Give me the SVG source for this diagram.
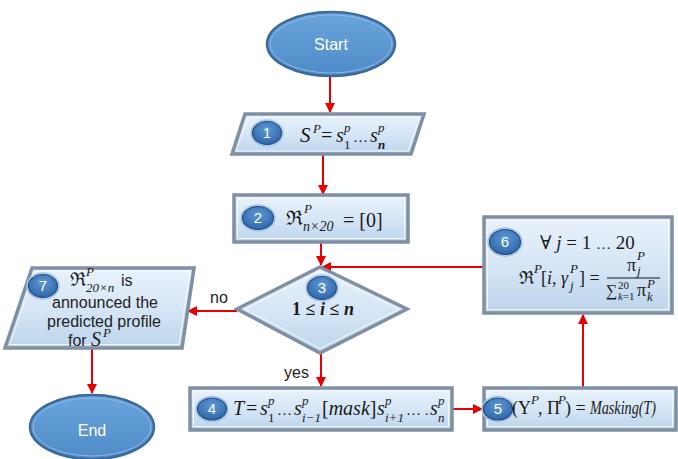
<svg xmlns="http://www.w3.org/2000/svg" width="678" height="459" viewBox="0 0 678 459">
<defs>
<linearGradient id="g" x1="0" y1="0" x2="0" y2="1">
<stop offset="0" stop-color="#E9F2FB"/>
<stop offset="0.5" stop-color="#D6E6F6"/>
<stop offset="1" stop-color="#BCD4EC"/>
</linearGradient>
<linearGradient id="tg" x1="0" y1="0" x2="0" y2="1">
<stop offset="0" stop-color="#6AA5DC"/>
<stop offset="1" stop-color="#4F8BC8"/>
</linearGradient>
<radialGradient id="bg" cx="0.5" cy="0.35" r="0.65">
<stop offset="0" stop-color="#5E98D6"/>
<stop offset="1" stop-color="#2F66A8"/>
</radialGradient>
<marker id="ah" viewBox="0 0 10 10" refX="9" refY="5" markerWidth="5" markerHeight="5" orient="auto">
<path d="M0,0 L10,5 L0,10 z" fill="#E60000"/>
</marker>
</defs>
<style>
.shape{fill:url(#g);stroke:#7F8FA4;stroke-width:3.5}
.inner{fill:none;stroke:#F4F8FC;stroke-width:1}
.term{fill:url(#tg);stroke:#3C6A9A;stroke-width:2.5}
.termin{fill:none;stroke:#8DB8E4;stroke-width:1}
.badge{fill:url(#bg);stroke:#1F4E85;stroke-width:1.2}
.ring{fill:none;stroke:#A9C4E4;stroke-width:1.5}
.num{font-family:"Liberation Sans",Arial,sans-serif;font-size:15px;fill:#fff;text-anchor:middle}
.tt{font-family:"Liberation Sans",Arial,sans-serif;font-size:16px;fill:#fff;text-anchor:middle}
.m{font-family:"Liberation Serif","DejaVu Serif",serif;font-style:italic;fill:#1a1a1a;font-size:20px}
.r{font-family:"Liberation Serif","DejaVu Serif",serif;font-style:normal;fill:#1a1a1a;font-size:20px}
.s{font-size:13px}
.e{font-size:15px}
.lab{font-family:"Liberation Sans",Arial,sans-serif;font-size:16px;fill:#222}
.lab7{font-family:"Liberation Sans",Arial,sans-serif;font-size:16px;fill:#222}
.conn{stroke:#E60000;stroke-width:2;fill:none;marker-end:url(#ah)}
</style>

<g id="connectors">
<line class="conn" x1="330" y1="77" x2="330" y2="112"/>
<line class="conn" x1="323" y1="155" x2="323" y2="194"/>
<line class="conn" x1="321" y1="243" x2="321" y2="265"/>
<line class="conn" x1="321" y1="354" x2="321" y2="386"/>
<line class="conn" x1="237" y1="311" x2="188" y2="311"/>
<line class="conn" x1="92" y1="349" x2="92" y2="393"/>
<line class="conn" x1="452" y1="409" x2="482" y2="409"/>
<line class="conn" x1="583" y1="387" x2="583" y2="315"/>
<line class="conn" x1="483" y1="267" x2="322" y2="267"/>
<text class="lab" x="210" y="303">no</text>
<text class="lab" x="284" y="378">yes</text>
</g>

<g id="start">
<ellipse class="term" cx="331" cy="44" rx="64" ry="32"/>
<ellipse class="termin" cx="331" cy="44" rx="61" ry="29"/>
<text class="tt" x="331" y="50">Start</text>
</g>

<g id="n1">
<polygon class="shape" points="245,114 424,114 411,154 232,154"/>
<polygon class="inner" points="248,117 420,117 408,151 236,151"/>
<ellipse class="ring" cx="267" cy="133" rx="16" ry="13"/>
<ellipse class="badge" cx="267" cy="133" rx="14.5" ry="11.5"/>
<text class="num" x="267" y="138">1</text>
<text class="m" x="300" y="142" style="font-size:21px">S</text>
<text class="m s" x="313" y="133">P</text>
<text class="r" x="321" y="142">=</text>
<text class="m" x="336" y="142">s</text>
<text class="m s" x="344" y="132">p</text>
<text class="r s" x="344" y="149">1</text>
<text class="r e" x="353" y="142">…</text>
<text class="m" x="370" y="142">s</text>
<text class="m s" x="378" y="132">p</text>
<text class="m s" x="378" y="149" font-weight="bold">n</text>
</g>

<g id="n2">
<rect class="shape" x="234" y="195" width="174" height="47"/>
<rect class="inner" x="237.5" y="198.5" width="167" height="40"/>
<ellipse class="ring" cx="258" cy="218" rx="17" ry="13"/>
<ellipse class="badge" cx="258" cy="218" rx="15.5" ry="11.5"/>
<text class="num" x="258" y="223">2</text>
<text class="r" x="286" y="225">ℜ</text>
<text class="m s" x="304" y="213">P</text>
<text class="m" x="303" y="231" style="font-size:14px">n×20</text>
<text class="r" x="343" y="227">= [0]</text>
</g>

<g id="n3">
<polygon class="shape" points="320,267 407,309 320,353 237,309"/>
<polygon class="inner" points="320,271.5 399,309 320,348.5 245,309"/>
<ellipse class="ring" cx="322" cy="288" rx="16" ry="13"/>
<ellipse class="badge" cx="322" cy="288" rx="14.5" ry="11.5"/>
<text class="num" x="322" y="293">3</text>
<text class="r" x="323" y="315" style="font-size:18px;font-weight:bold" text-anchor="middle">1 ≤ <tspan font-style="italic">i</tspan> ≤ <tspan font-style="italic">n</tspan></text>
</g>

<g id="n4">
<rect class="shape" x="190" y="388" width="262" height="42"/>
<rect class="inner" x="193.5" y="391.5" width="255" height="35"/>
<ellipse class="ring" cx="212" cy="409" rx="16" ry="12.5"/>
<ellipse class="badge" cx="212" cy="409" rx="14.5" ry="11"/>
<text class="num" x="212" y="414">4</text>
<text class="m" x="233" y="415">T</text>
<text class="r" x="246" y="415">=</text>
<text class="m" x="260" y="415">s</text>
<text class="m s" x="268" y="405">p</text>
<text class="r s" x="268" y="422">1</text>
<text class="r e" x="277" y="415">…</text>
<text class="m" x="294" y="415">s</text>
<text class="m s" x="302" y="405">p</text>
<text class="m s" x="302" y="422">i−1</text>
<text class="r" x="322" y="415">[<tspan font-style="italic">mask</tspan>]</text>
<text class="m" x="377" y="415">s</text>
<text class="m s" x="385" y="405">p</text>
<text class="m s" x="385" y="422">i+1</text>
<text class="r e" x="406" y="415">… .</text>
<text class="m" x="430" y="415">s</text>
<text class="m s" x="438" y="405">p</text>
<text class="m s" x="438" y="422">n</text>
</g>

<g id="n5">
<rect class="shape" x="484" y="388" width="192" height="42"/>
<rect class="inner" x="487.5" y="391.5" width="185" height="35"/>
<ellipse class="ring" cx="498" cy="409" rx="16" ry="12.5"/>
<ellipse class="badge" cx="498" cy="409" rx="14.5" ry="11"/>
<text class="num" x="498" y="414">5</text>
<text class="r" x="512" y="414" style="font-size:18px">(Υ</text>
<text class="m s" x="531" y="404">P</text>
<text class="r" x="538" y="414" style="font-size:18px">, Π</text>
<text class="m s" x="558" y="404">P</text>
<text class="r" x="565" y="414" style="font-size:18px">) =</text>
<text class="m" x="590" y="414" style="font-size:18px" textLength="66" lengthAdjust="spacingAndGlyphs">Masking(T)</text>
</g>

<g id="n6">
<rect class="shape" x="484" y="217" width="188" height="96"/>
<rect class="inner" x="487.5" y="220.5" width="181" height="89"/>
<ellipse class="ring" cx="505" cy="242" rx="17" ry="14"/>
<ellipse class="badge" cx="505" cy="242" rx="15.5" ry="12.5"/>
<text class="num" x="505" y="247">6</text>
<text class="r" x="540" y="249" style="font-size:19px">∀ <tspan font-style="italic">j</tspan> = 1 <tspan style="font-size:15px">…</tspan> 20</text>
<text class="r" x="519" y="284" style="font-size:18px">ℜ</text>
<text class="m s" x="534" y="273">P</text>
<text class="r" x="541" y="284" style="font-size:18px">[<tspan font-style="italic">i</tspan>, <tspan font-style="italic">γ</tspan></text>
<text class="m s" x="570" y="273">P</text>
<text class="m s" x="570" y="290">j</text>
<text class="r" x="579" y="284" style="font-size:18px">] =</text>
<line x1="607" y1="278" x2="660" y2="278" stroke="#1a1a1a" stroke-width="1"/>
<text class="r" x="627" y="271" style="font-size:18px">π</text>
<text class="m s" x="637" y="260">P</text>
<text class="m s" x="637" y="275">j</text>
<text class="r" x="606" y="296" style="font-size:16px">∑</text>
<text class="r" x="618" y="289" style="font-size:11px">20</text>
<text class="m" x="618" y="300" style="font-size:11px">k<tspan font-style="normal">=1</tspan></text>
<text class="r" x="637" y="296" style="font-size:18px">π</text>
<text class="m s" x="647" y="288">P</text>
<text class="m s" x="647" y="301">k</text>
</g>

<g id="n7">
<polygon class="shape" points="32,268 194,268 182,348 5,348"/>
<polygon class="inner" points="35,271.5 190,271.5 179,344.5 9.5,344.5"/>
<ellipse class="ring" cx="43" cy="286" rx="16" ry="13"/>
<ellipse class="badge" cx="43" cy="286" rx="14.5" ry="11.5"/>
<text class="num" x="43" y="291">7</text>
<text class="r" x="70" y="286" style="font-size:19px">ℜ</text>
<text class="m s" x="86" y="276">P</text>
<text class="m s" x="86" y="292">20×n</text>
<text class="lab7" x="121" y="286">is</text>
<text class="lab7" x="105" y="308" text-anchor="middle">announced the</text>
<text class="lab7" x="104" y="327" text-anchor="middle">predicted profile</text>
<text class="lab7" x="68" y="346">for</text>
<text class="m" x="91" y="346">S</text>
<text class="m s" x="103" y="337">P</text>
</g>

<g id="end">
<ellipse class="term" cx="92" cy="427" rx="62" ry="32"/>
<ellipse class="termin" cx="92" cy="427" rx="59" ry="29"/>
<text class="tt" x="92" y="436">End</text>
</g>
</svg>
